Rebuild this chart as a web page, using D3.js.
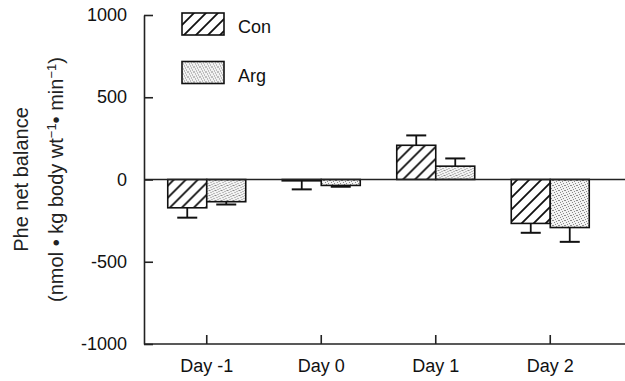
<!DOCTYPE html>
<html>
<head>
<meta charset="utf-8">
<script src="https://cdn.jsdelivr.net/npm/d3@7"></script>
<style>
  body { margin: 0; background: #fff; }
  svg { display: block; font-family: "Liberation Sans", Arial, sans-serif; }
</style>
</head>
<body>
<div id="chart"></div>
<script>
const categories = ['Day -1', 'Day 0', 'Day 1', 'Day 2'];
const groups = ['Con', 'Arg'];
const conValues = [-172, -8, 208, -267];
const conErrors = [60, 52, 60, 57];
const argValues = [-135, -36, 81, -292];
const argErrors = [17, 8, 47, 87];
const yTicks = [-1000, -500, 0, 500, 1000];

const width = 625;
const height = 381;

const svg = d3.select('#chart')
  .append('svg')
  .attr('width', width)
  .attr('height', height);

const defs = svg.append('defs');

// diagonal hatch for Con
const hatch = defs.append('pattern')
  .attr('id', 'hatch')
  .attr('patternUnits', 'userSpaceOnUse')
  .attr('width', 12)
  .attr('height', 12);
hatch.append('rect').attr('width', 12).attr('height', 12).attr('fill', '#fff');
hatch.append('path')
  .attr('d', 'M-3,3 L3,-3 M0,12 L12,0 M9,15 L15,9')
  .attr('stroke', '#111')
  .attr('stroke-width', 1.8);

// light stipple for Arg
const stip = defs.append('pattern')
  .attr('id', 'stipple')
  .attr('patternUnits', 'userSpaceOnUse')
  .attr('width', 6)
  .attr('height', 5);
stip.append('rect').attr('width', 6).attr('height', 5).attr('fill', '#f2f2f2');
[[0, 0], [3, 1], [1, 2], [4, 3], [2, 4], [5, 0]].forEach(([dx, dy]) => {
  stip.append('rect')
    .attr('x', dx).attr('y', dy)
    .attr('width', 1).attr('height', 1)
    .attr('fill', '#8a8a8a');
});

const x = d3.scaleBand()
  .domain(categories)
  .range([149.5, 607.5]);

const xSub = d3.scaleBand()
  .domain(groups)
  .range([x.bandwidth() / 2 - 39, x.bandwidth() / 2 + 39]);

const y = d3.scaleLinear()
  .domain([-1000, 1000])
  .range([344, 15]);

const rows = categories.map((c, i) => ({
  cat: c,
  bars: [
    { group: 'Con', value: conValues[i], err: conErrors[i] },
    { group: 'Arg', value: argValues[i], err: argErrors[i] },
  ],
}));

const fills = { Con: 'url(#hatch)', Arg: 'url(#stipple)' };

// bars
const cat = svg.append('g')
  .selectAll('g')
  .data(rows)
  .join('g')
  .attr('transform', (d) => `translate(${x(d.cat)},0)`);

const bar = cat.selectAll('g')
  .data((d) => d.bars)
  .join('g');

// error bars (one-sided, away from zero)
bar.append('line')
  .attr('x1', (d) => xSub(d.group) + xSub.bandwidth() / 2)
  .attr('x2', (d) => xSub(d.group) + xSub.bandwidth() / 2)
  .attr('y1', (d) => y(d.value))
  .attr('y2', (d) => y(d.value + Math.sign(d.value) * d.err))
  .attr('stroke', '#111')
  .attr('stroke-width', 1.8);
bar.append('line')
  .attr('x1', (d) => xSub(d.group) + xSub.bandwidth() / 2 - 10)
  .attr('x2', (d) => xSub(d.group) + xSub.bandwidth() / 2 + 10)
  .attr('y1', (d) => y(d.value + Math.sign(d.value) * d.err))
  .attr('y2', (d) => y(d.value + Math.sign(d.value) * d.err))
  .attr('stroke', '#111')
  .attr('stroke-width', 2);

bar.append('rect')
  .attr('x', (d) => xSub(d.group))
  .attr('width', xSub.bandwidth())
  .attr('y', (d) => Math.min(y(d.value), y(0)))
  .attr('height', (d) => Math.abs(y(d.value) - y(0)))
  .attr('fill', (d) => fills[d.group])
  .attr('stroke', '#111')
  .attr('stroke-width', 1.6);

// zero line
svg.append('line')
  .attr('x1', 144).attr('x2', width)
  .attr('y1', y(0)).attr('y2', y(0))
  .attr('stroke', '#222')
  .attr('stroke-width', 1.5);

// y axis, ticks pointing inward
const yAxis = svg.append('g')
  .attr('transform', 'translate(144,0)')
  .call(d3.axisRight(y).tickValues(yTicks).tickSize(9).tickSizeOuter(0).tickFormat(''));
yAxis.select('.domain').attr('stroke', '#222').attr('stroke-width', 1.6);
yAxis.selectAll('.tick line').attr('stroke', '#222').attr('stroke-width', 1.6);

svg.append('g')
  .selectAll('text')
  .data(yTicks)
  .join('text')
  .attr('x', 127)
  .attr('y', (d) => y(d) + 6)
  .attr('text-anchor', 'end')
  .attr('font-size', 18)
  .attr('fill', '#111')
  .text((d) => d);

// x axis, ticks pointing upward
const xAxis = svg.append('g')
  .attr('transform', `translate(0,${y(-1000)})`)
  .call(d3.axisTop(x).tickSize(9).tickSizeOuter(0).tickFormat(''));
xAxis.select('.domain').attr('d', `M144,0H${width}`).attr('stroke', '#222').attr('stroke-width', 1.6);
xAxis.selectAll('.tick line').attr('stroke', '#222').attr('stroke-width', 1.6);

svg.append('g')
  .selectAll('text')
  .data(categories)
  .join('text')
  .attr('x', (d) => x(d) + x.bandwidth() / 2)
  .attr('y', 372)
  .attr('text-anchor', 'middle')
  .attr('font-size', 18)
  .attr('fill', '#111')
  .text((d) => d);

// y title
const title = svg.append('g')
  .attr('transform', `translate(0,${y(0)}) rotate(-90)`)
  .attr('text-anchor', 'middle')
  .attr('font-size', 20)
  .attr('fill', '#222');
title.append('text').attr('x', 0).attr('y', 28).text('Phe net balance');
const t2 = title.append('text').attr('x', 0).attr('y', 63);
t2.append('tspan').text('(nmol \u2022 kg body wt');
t2.append('tspan').attr('dy', -7).attr('font-size', 13).text('\u22121');
t2.append('tspan').attr('dy', 7).text('\u2022 min');
t2.append('tspan').attr('dy', -7).attr('font-size', 13).text('\u22121');
t2.append('tspan').attr('dy', 7).text(')');

// legend
const legend = svg.append('g')
  .selectAll('g')
  .data(groups)
  .join('g')
  .attr('transform', (d, i) => `translate(182,${13 + i * 48.5})`);
legend.append('rect')
  .attr('width', 42)
  .attr('height', 22)
  .attr('fill', (d) => fills[d])
  .attr('stroke', '#111')
  .attr('stroke-width', 1.6);
legend.append('text')
  .attr('x', 56)
  .attr('y', 20)
  .attr('font-size', 18)
  .attr('fill', '#111')
  .text((d) => d);
</script>
</body>
</html>
